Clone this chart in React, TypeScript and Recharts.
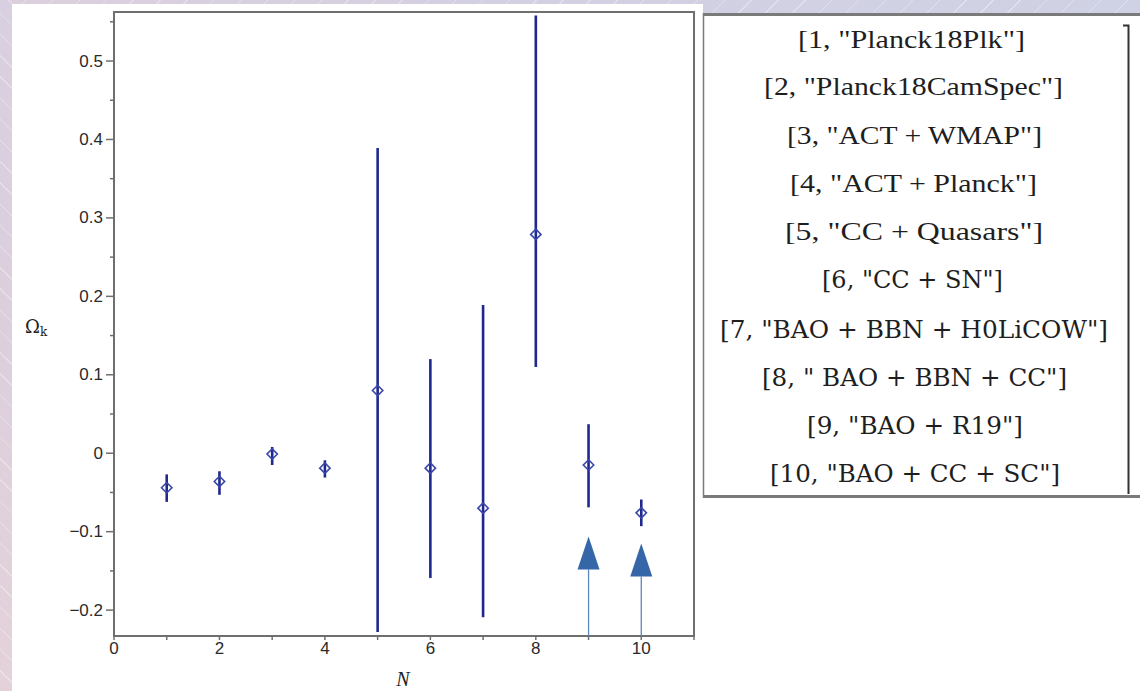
import React from 'react';
import { ComposedChart, Scatter, ErrorBar, XAxis, YAxis, ReferenceArea } from 'recharts';

// ---------- data ----------
const categories = [1, 2, 3, 4, 5, 6, 7, 8, 9, 10];
const omegaK = [-0.044, -0.036, -0.001, -0.019, 0.08, -0.019, -0.07, 0.279, -0.015, -0.076];
const lowerBounds = [-0.062, -0.053, -0.015, -0.031, -0.228, -0.159, -0.209, 0.11, -0.069, -0.093];
const upperBounds = [-0.027, -0.023, 0.008, -0.009, 0.389, 0.12, 0.189, 0.558, 0.037, -0.059];

const arrowN = [9, 10];
const arrowTips = [-0.106, -0.115];

const xTicks = [0, 1, 2, 3, 4, 5, 6, 7, 8, 9, 10, 11];
const xLabelTicks = [0, 2, 4, 6, 8, 10];
const yTicks = [-0.2, -0.15, -0.1, -0.05, 0, 0.05, 0.1, 0.15, 0.2, 0.25, 0.3, 0.35, 0.4, 0.45, 0.5, 0.55];
const yLabelTicks = [-0.2, -0.1, 0, 0.1, 0.2, 0.3, 0.4, 0.5];

const legendLabels = [
  '[1, "Planck18Plk"]',
  '[2, "Planck18CamSpec"]',
  '[3, "ACT + WMAP"]',
  '[4, "ACT + Planck"]',
  '[5, "CC + Quasars"]',
  '[6, "CC + SN"]',
  '[7, "BAO + BBN + H0LiCOW"]',
  '[8, " BAO + BBN + CC"]',
  '[9, "BAO + R19"]',
  '[10, "BAO + CC + SC"]',
];

// ---------- layout (not data) ----------
const W = 1140;
const H = 691;
const legendLeft = [798, 764, 787, 790, 785, 822, 720, 762, 807, 770];
const legendWidth = [227, 299, 255, 247, 258, 181, 388, 305, 216, 290];
const legendCenter = [39, 86, 135, 183, 231, 280, 330, 378, 426, 474];

const pointData = categories.map((n, i) => ({
  n,
  y: omegaK[i],
  err: [omegaK[i] - lowerBounds[i], upperBounds[i] - omegaK[i]],
}));
const arrowData = arrowN.map((n, i) => ({ n, y: arrowTips[i] }));

const AXIS = '#6f6f6f';
const SERIF = "'Liberation Serif', 'Times New Roman', serif";
const SLAB = "'DejaVu Serif', serif";
const SANS = "'Liberation Sans', Arial, sans-serif";
const isIn = (v: number, arr: number[]) => arr.some((a) => Math.abs(a - v) < 1e-9);
const fmtY = (v: number) => (Math.abs(v) < 1e-9 ? '0' : v < 0 ? `\u2212${Math.abs(v).toFixed(1)}` : v.toFixed(1));

const XTick = (props: any) => {
  const { x, y, payload } = props;
  const v = payload.value;
  return (
    <g>
      <line x1={x} y1={y} x2={x} y2={y + 4} stroke={AXIS} strokeWidth={1.5} />
      {isIn(v, xLabelTicks) && (
        <text x={x} y={y + 12} textAnchor="middle" dominantBaseline="central" style={{ fontFamily: SANS, fontSize: 17 }} fill="#2a2a2a">
          {String(v)}
        </text>
      )}
    </g>
  );
};

const YTick = (props: any) => {
  const { x, y, payload } = props;
  const v = payload.value;
  const major = isIn(v, yLabelTicks);
  return (
    <g>
      <line x1={x - (major ? 8 : 4)} y1={y} x2={x} y2={y} stroke={AXIS} strokeWidth={1.5} />
      {major && (
        <text x={x - 11} y={y} textAnchor="end" dominantBaseline="central" style={{ fontFamily: SANS, fontSize: 17 }} fill="#2a2a2a">
          {fmtY(v)}
        </text>
      )}
    </g>
  );
};

const Diamond = (props: any) => {
  const { cx, cy } = props;
  const r = 5.2;
  return (
    <polygon
      points={`${cx},${cy - r} ${cx + r},${cy} ${cx},${cy + r} ${cx - r},${cy}`}
      fill="none"
      stroke="#3a46a8"
      strokeWidth={1.6}
    />
  );
};

const Arrow = (props: any) => {
  const { cx, cy } = props;
  const headH = 33;
  const halfW = 11;
  return (
    <g>
      <line x1={cx} y1={cy + headH} x2={cx} y2={H} stroke="#5f85bf" strokeWidth={1.3} />
      <polygon points={`${cx},${cy} ${cx + halfW},${cy + headH} ${cx - halfW},${cy + headH}`} fill="#3466a8" />
    </g>
  );
};

export default function App() {
  return (
    <div style={{ position: 'absolute', left: 0, top: 0, width: W, height: H, overflow: 'hidden' }}>
      {/* lavender backdrop */}
      <div
        style={{
          position: 'absolute', left: 0, top: 0, width: W, height: H,
          background:
            'repeating-linear-gradient(135deg, rgba(255,255,255,0) 0px, rgba(255,255,255,0) 18px, rgba(255,255,255,0.35) 18px, rgba(255,255,255,0.35) 19px), linear-gradient(90deg, #dccfdd 0%, #d2d0e2 50%, #cfd2e4 100%)',
        }}
      />
      <div
        style={{
          position: 'absolute', left: 0, top: 0, width: 12, height: H,
          background:
            'repeating-linear-gradient(45deg, rgba(255,255,255,0) 0px, rgba(255,255,255,0) 14px, rgba(255,255,255,0.35) 14px, rgba(255,255,255,0.35) 15px), linear-gradient(180deg, #d8cfe0 0%, #dccfdc 50%, #e4d2da 100%)',
        }}
      />
      {/* white panels */}
      <div style={{ position: 'absolute', left: 12, top: 4, width: 691, height: H - 4, background: '#ffffff' }} />
      <div style={{ position: 'absolute', left: 703, top: 13, width: W - 703, height: H - 13, background: '#ffffff' }} />

      <div style={{ position: 'absolute', left: 0, top: 0 }}>
        <ComposedChart width={W} height={H} margin={{ top: 12, right: 446, bottom: 15, left: 14 }}>
          <XAxis
            type="number"
            dataKey="n"
            domain={[0, 11]}
            ticks={xTicks}
            interval={0}
            allowDataOverflow
            height={40}
            tickLine={false}
            tickSize={0}
            tickMargin={0}
            axisLine={{ stroke: AXIS, strokeWidth: 2 }}
            tick={<XTick />}
          />
          <YAxis
            type="number"
            dataKey="y"
            domain={[-0.233, 0.5625]}
            ticks={yTicks}
            interval={0}
            allowDataOverflow
            width={100}
            tickLine={false}
            tickSize={0}
            tickMargin={0}
            axisLine={{ stroke: AXIS, strokeWidth: 2 }}
            tick={<YTick />}
          />
          <ReferenceArea x1={0} x2={11} y1={-0.233} y2={0.5625} fill="none" stroke={AXIS} strokeWidth={2} ifOverflow="visible" />
          <Scatter data={pointData} dataKey="y" isAnimationActive={false} shape={<Diamond />}>
            <ErrorBar dataKey="err" direction="y" width={0} stroke="#1f288c" strokeWidth={2.6} isAnimationActive={false} />
          </Scatter>
          <Scatter data={arrowData} dataKey="y" isAnimationActive={false} shape={<Arrow />} />
        </ComposedChart>
      </div>

      {/* axis labels and legend box */}
      <svg width={W} height={H} style={{ position: 'absolute', left: 0, top: 0, pointerEvents: 'none' }}>
        <text x={25} y={333} style={{ fontFamily: SLAB, fontSize: 18 }} fill="#222">
          Ω<tspan style={{ fontSize: 12 }} dy={3}>k</tspan>
        </text>
        <text x={403} y={679} textAnchor="middle" dominantBaseline="central" style={{ fontFamily: SERIF, fontSize: 20, fontStyle: 'italic' }} fill="#222">
          N
        </text>

        <line x1={703} y1={14.5} x2={W} y2={14.5} stroke="#7a7a7a" strokeWidth={3} />
        <line x1={703.5} y1={13} x2={703.5} y2={498} stroke="#7a7a7a" strokeWidth={1.5} />
        <line x1={703} y1={496.5} x2={W} y2={496.5} stroke="#7a7a7a" strokeWidth={3} />
        <polyline points="1123,25.5 1128.5,25.5 1128.5,494" fill="none" stroke="#333" strokeWidth={2} />

        {legendLabels.map((lbl, i) => (
          <text
            key={i}
            x={legendLeft[i]}
            y={legendCenter[i]}
            dominantBaseline="central"
            textLength={legendWidth[i]}
            lengthAdjust="spacingAndGlyphs"
            style={{ fontFamily: i < 5 ? SERIF : SLAB, fontSize: i < 5 ? 26 : 24 }}
            fill="#1e1e1e"
          >
            {lbl}
          </text>
        ))}
      </svg>
    </div>
  );
}
